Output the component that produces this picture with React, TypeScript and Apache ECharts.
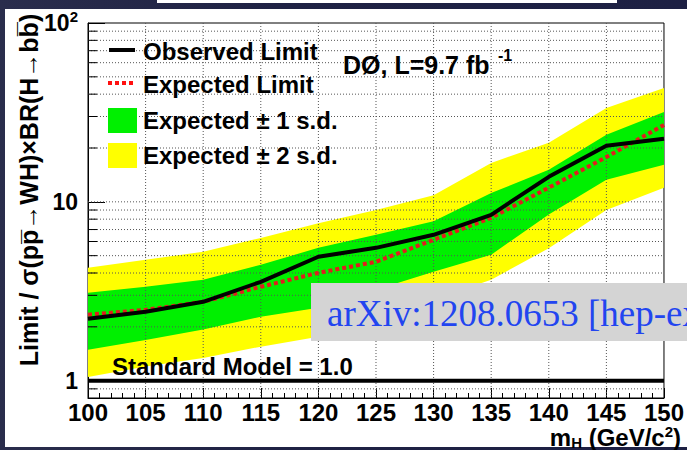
import React, { useEffect, useRef } from "react";
import * as echarts from "echarts";

// Higgs mass points (GeV/c^2) and limits on sigma x BR relative to the SM
const massPoints = [100, 105, 110, 115, 120, 125, 130, 135, 140, 145, 150];
const observedLimit = [2.22, 2.43, 2.76, 3.57, 4.93, 5.53, 6.54, 8.46, 13.8, 20.6, 22.5];
const expectedLimit = [2.34, 2.49, 2.76, 3.35, 4.01, 4.62, 6.13, 8.14, 12.0, 17.8, 26.9];
const expectedPlus1 = [3.1, 3.35, 3.67, 4.45, 5.53, 6.55, 7.8, 11.2, 15.1, 23.7, 31.8];
const expectedMinus1 = [1.49, 1.69, 1.93, 2.28, 2.56, 3.22, 4.06, 5.06, 8.5, 13.3, 16.1];
const expectedPlus2 = [4.28, 4.74, 5.26, 6.28, 7.6, 9.0, 10.9, 16.5, 21.4, 33.5, 43.3];
const expectedMinus2 = [1.05, 1.2, 1.34, 1.55, 1.76, 2.25, 2.84, 3.67, 5.5, 9.0, 12.0];
const standardModel = 1.0;

// axis ranges and grid positions
const xMin = 100;
const xMax = 150;
const xStep = 5;
const yMin = 0.8;
const yMax = 100;
const yMinorValues = [0.9, 2, 3, 4, 5, 6, 7, 8, 9, 20, 30, 40, 50, 60, 70, 80, 90];
const yMajorValues = [1, 10];
const xGridValues = [105, 110, 115, 120, 125, 130, 135, 140, 145];

const legendLabels = ["Observed Limit", "Expected Limit", "Expected \u00b1 1 s.d.", "Expected \u00b1 2 s.d."];
const experimentLabel = "D\u00d8, L=9.7 fb";
const lumiExponent = "-1";
const smLabel = "Standard Model = 1.0";
const yTitle = "Limit / \u03c3(pp\u0305\u2192WH)\u00d7BR(H\u2192bb\u0305)";
const arxivLabel = "arXiv:1208.0653 [hep-ex]";

const FONT = '"Liberation Sans", Arial, Helvetica, sans-serif';
const SERIF = '"Liberation Serif", "Times New Roman", serif';
const GREEN = "#00f000";
const YELLOW = "#ffff00";
const RED = "#e01e1e";

function bandSeries(lo: number[], hi: number[], color: string, z: number) {
  return {
    type: "custom",
    coordinateSystem: "cartesian2d",
    silent: true,
    z,
    data: [[125, 5]],
    renderItem: (_params: any, api: any) => {
      const upper = massPoints.map((m, i) => api.coord([m, hi[i]]));
      const lower = massPoints.map((m, i) => api.coord([m, lo[i]])).reverse();
      return {
        type: "polygon",
        shape: { points: [...upper, ...lower] },
        style: { fill: color, stroke: null },
      };
    },
  };
}

function buildOption(): any {
  const gridData = yMinorValues
    .map((v) => [xMin, v, 1])
    .concat(yMajorValues.map((v) => [xMin, v, 0]));

  return {
    animation: false,
    backgroundColor: "transparent",
    grid: {
      left: 88,
      right: 22,
      top: 23,
      bottom: 52,
      show: true,
      borderColor: "#000",
      borderWidth: 1,
      backgroundColor: "#fff",
    },
    xAxis: {
      type: "value",
      min: xMin,
      max: xMax,
      interval: xStep,
      axisLine: { show: true, lineStyle: { color: "#000", width: 1 } },
      axisTick: { show: true, inside: true, length: 10, lineStyle: { color: "#000" } },
      minorTick: { show: true, splitNumber: 5, length: 5, lineStyle: { color: "#000" } },
      splitLine: { show: false },
      axisLabel: {
        color: "#000",
        fontFamily: FONT,
        fontWeight: "bold",
        fontSize: 24,
        lineHeight: 20,
        margin: 4,
      },
    },
    yAxis: {
      type: "log",
      logBase: 10,
      min: yMin,
      max: yMax,
      axisLine: { show: true, lineStyle: { color: "#000", width: 1 } },
      axisTick: { show: true, inside: true, length: 17, lineStyle: { color: "#000" } },
      splitLine: { show: false },
      axisLabel: {
        color: "#000",
        fontFamily: FONT,
        fontWeight: "bold",
        fontSize: 23,
        margin: 10,
        showMinLabel: true,
        showMaxLabel: true,
        formatter: (v: number) => {
          if (Math.abs(v - 1) < 1e-6) return "{n|1}";
          if (Math.abs(v - 10) < 1e-6) return "{n|10}";
          if (Math.abs(v - 100) < 1e-6) return "{n|10}{p|2}";
          return "";
        },
        rich: {
          n: { fontFamily: FONT, fontWeight: "bold", fontSize: 23, color: "#000", lineHeight: 28 },
          p: { fontFamily: FONT, fontWeight: "bold", fontSize: 15, color: "#000", verticalAlign: "top" },
        },
      },
    },
    series: [
      bandSeries(expectedMinus2, expectedPlus2, YELLOW, 1),
      bandSeries(expectedMinus1, expectedPlus1, GREEN, 2),
      {
        // horizontal dotted grid plus minor ticks of the log axis
        type: "custom",
        coordinateSystem: "cartesian2d",
        silent: true,
        z: 3,
        data: gridData,
        renderItem: (_params: any, api: any) => {
          const v = api.value(1);
          const a = api.coord([xMin, v]);
          const b = api.coord([xMax, v]);
          const children: any[] = [
            {
              type: "line",
              shape: { x1: a[0], y1: a[1], x2: b[0], y2: b[1] },
              style: { stroke: "#555", lineWidth: 1, lineDash: [1, 2] },
            },
          ];
          if (api.value(2) === 1) {
            children.push({
              type: "line",
              shape: { x1: a[0], y1: a[1], x2: a[0] + 9, y2: a[1] },
              style: { stroke: "#000", lineWidth: 1 },
            });
          }
          return { type: "group", children };
        },
      },
      {
        // vertical dotted grid
        type: "custom",
        coordinateSystem: "cartesian2d",
        silent: true,
        z: 3,
        data: xGridValues.map((m) => [m, 1]),
        renderItem: (_params: any, api: any) => {
          const m = api.value(0);
          const a = api.coord([m, yMax]);
          const b = api.coord([m, yMin]);
          return {
            type: "line",
            shape: { x1: a[0], y1: a[1], x2: b[0], y2: b[1] },
            style: { stroke: "#555", lineWidth: 1, lineDash: [1, 2] },
          };
        },
      },
      {
        name: legendLabels[1],
        type: "line",
        z: 4,
        symbol: "none",
        silent: true,
        data: massPoints.map((m, i) => [m, expectedLimit[i]]),
        lineStyle: { color: RED, width: 4, type: [4, 3] },
      },
      {
        name: legendLabels[0],
        type: "line",
        z: 5,
        symbol: "none",
        silent: true,
        data: massPoints.map((m, i) => [m, observedLimit[i]]),
        lineStyle: { color: "#000", width: 4 },
      },
      {
        name: smLabel,
        type: "line",
        z: 6,
        symbol: "none",
        silent: true,
        data: [
          [xMin, standardModel],
          [xMax, standardModel],
        ],
        lineStyle: { color: "#000", width: 4 },
      },
    ],
    graphic: [
      // legend
      {
        type: "line",
        z: 100,
        shape: { x1: 109, y1: 50, x2: 135, y2: 50 },
        style: { stroke: "#000", lineWidth: 4 },
      },
      {
        type: "line",
        z: 100,
        shape: { x1: 108, y1: 83, x2: 134, y2: 83 },
        style: { stroke: "#ff1010", lineWidth: 4, lineDash: [4, 3] },
      },
      { type: "rect", z: 100, shape: { x: 108, y: 108, width: 29, height: 25 }, style: { fill: GREEN } },
      { type: "rect", z: 100, shape: { x: 108, y: 143, width: 29, height: 25 }, style: { fill: YELLOW } },
      ...legendLabels.map((t, i) => ({
        type: "text",
        z: 100,
        x: 143,
        y: [51, 84, 120, 155][i],
        style: {
          text: t,
          fill: "#000",
          font: `bold 24px ${FONT}`,
          textAlign: "left",
          textVerticalAlign: "middle",
        },
      })),
      // experiment and luminosity
      {
        type: "text",
        z: 100,
        x: 343,
        y: 65,
        style: {
          text: experimentLabel,
          fill: "#000",
          font: `bold 25px ${FONT}`,
          textAlign: "left",
          textVerticalAlign: "middle",
        },
      },
      {
        type: "text",
        z: 100,
        x: 498,
        y: 55,
        style: {
          text: lumiExponent,
          fill: "#000",
          font: `bold 16px ${FONT}`,
          textAlign: "left",
          textVerticalAlign: "middle",
        },
      },
      // Standard Model reference label
      {
        type: "text",
        z: 100,
        x: 112,
        y: 366,
        style: {
          text: smLabel,
          fill: "#000",
          font: `bold 24px ${FONT}`,
          textAlign: "left",
          textVerticalAlign: "middle",
        },
      },
      // y axis title
      {
        type: "text",
        z: 100,
        x: 29,
        y: 190,
        rotation: Math.PI / 2,
        style: {
          text: yTitle,
          fill: "#000",
          font: `bold 25px ${FONT}`,
          textAlign: "center",
          textVerticalAlign: "middle",
        },
      },
      // x axis title
      {
        type: "text",
        z: 100,
        x: 681,
        y: 437,
        style: {
          text: "{m|m}{s|H}{m| (GeV/c}{p|2}{m|)}",
          textAlign: "right",
          textVerticalAlign: "middle",
          rich: {
            m: { fontFamily: FONT, fontWeight: "bold", fontSize: 24, fill: "#000", lineHeight: 26 },
            s: { fontFamily: FONT, fontWeight: "bold", fontSize: 15, fill: "#000", verticalAlign: "bottom" },
            p: { fontFamily: FONT, fontWeight: "bold", fontSize: 15, fill: "#000", verticalAlign: "top" },
          },
        },
      },
      // arXiv reference box
      {
        type: "rect",
        z: 110,
        shape: { x: 311, y: 283, width: 380, height: 58 },
        style: { fill: "#d4d4d4" },
      },
      {
        type: "text",
        z: 111,
        x: 327,
        y: 313,
        style: {
          text: arxivLabel,
          fill: "#2245f0",
          font: `37px ${SERIF}`,
          textAlign: "left",
          textVerticalAlign: "middle",
        },
      },
    ],
  };
}

export default function App() {
  const ref = useRef<HTMLDivElement>(null);

  useEffect(() => {
    if (!ref.current) return;
    const chart = echarts.init(ref.current, undefined, { renderer: "svg" });
    chart.setOption(buildOption());
    return () => {
      chart.dispose();
    };
  }, []);

  return (
    <div
      style={{
        position: "fixed",
        left: 0,
        top: 0,
        width: 687,
        height: 450,
        overflow: "hidden",
        background: "linear-gradient(90deg, #2a2d4c 0%, #1f2244 40%, #1d2043 100%)",
      }}
    >
      <div style={{ position: "absolute", left: 157, top: 0, width: 460, height: 3, background: "#fff" }} />
      <div style={{ position: "absolute", left: 5, top: 9, width: 682, height: 438, background: "#fff" }} />
      <div ref={ref} style={{ position: "absolute", left: 0, top: 0, width: 687, height: 450 }} />
    </div>
  );
}
